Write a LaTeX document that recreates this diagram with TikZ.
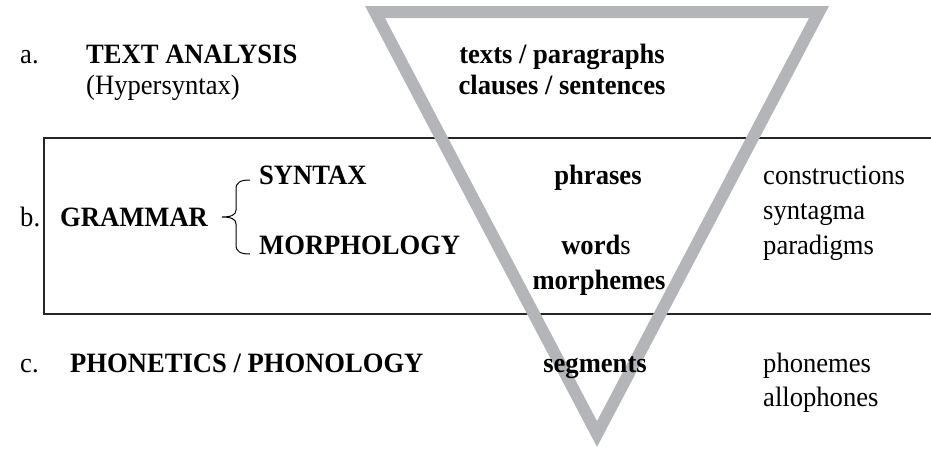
\documentclass[tikz,border=0pt]{standalone}
\usepackage{fontspec}
\setmainfont{Liberation Serif}[FakeStretch=0.95]
\definecolor{trigray}{RGB}{180,181,184}
\begin{document}
\begin{tikzpicture}[x=1pt,y=-1pt,
  lbl/.style={anchor=base west,inner sep=0pt,font=\fontsize{28}{32}\selectfont},
  blbl/.style={lbl,font=\fontsize{28}{32}\selectfont\bfseries},
  clbl/.style={blbl,anchor=base},
  tri/.style={draw=trigray,line width=12pt,line join=miter},
  boxline/.style={draw=black!85,line width=1.5pt},
  bracel/.style={draw=black,line width=1pt}]
\useasboundingbox (0,0) rectangle (931,448);
% box
\draw[boxline] (940,138) -- (44,138) -- (44,314) -- (940,314);
% triangle
\coordinate (tl) at (375,12);
\coordinate (tr) at (819,12);
\coordinate (ap) at (597,434);
\draw[tri] (tl) -- (tr) -- (ap) -- cycle;
% row a
\node[lbl] (a) at (20,63) {a.};
\node[blbl] (ta) at (86,63) {TEXT ANALYSIS};
\node[lbl] (hs) at (86,94) {(Hypersyntax)};
\node[clbl] (tp) at (562,63) {texts / paragraphs};
\node[clbl] (cs) at (562,94) {clauses / sentences};
% row b
\node[lbl] (b) at (20,226) {b.};
\node[blbl] (gr) at (60,226) {GRAMMAR};
\node[blbl] (sy) at (259,184) {SYNTAX};
\node[blbl] (mo) at (259,254) {MORPHOLOGY};
\coordinate (bt) at (250,180);
\coordinate (bb) at (250,254);
\coordinate (bm) at (222,217);
\draw[bracel] (bt) .. controls (241,180) and (236,182) .. (236,189) -- (236,210) .. controls (236,215) and (231,217) .. (bm) .. controls (231,217) and (236,219) .. (236,224) -- (236,245) .. controls (236,252) and (241,254) .. (bb);
\node[clbl] (ph) at (598,184) {phrases};
\node[clbl] (wo) at (596,254) {word\mdseries s};
\node[clbl] (mm) at (599,289) {morphemes};
\node[lbl] (co) at (763,184) {constructions};
\node[lbl] (st) at (763,219) {syntagma};
\node[lbl] (pa) at (763,254) {paradigms};
% row c
\node[lbl] (c) at (20,372) {c.};
\node[blbl] (pp) at (70,372) {PHONETICS / PHONOLOGY};
\node[clbl] (se) at (595,372) {segments};
\node[lbl] (pn) at (763,372) {phonemes};
\node[lbl] (al) at (763,406) {allophones};
\end{tikzpicture}
\end{document}
